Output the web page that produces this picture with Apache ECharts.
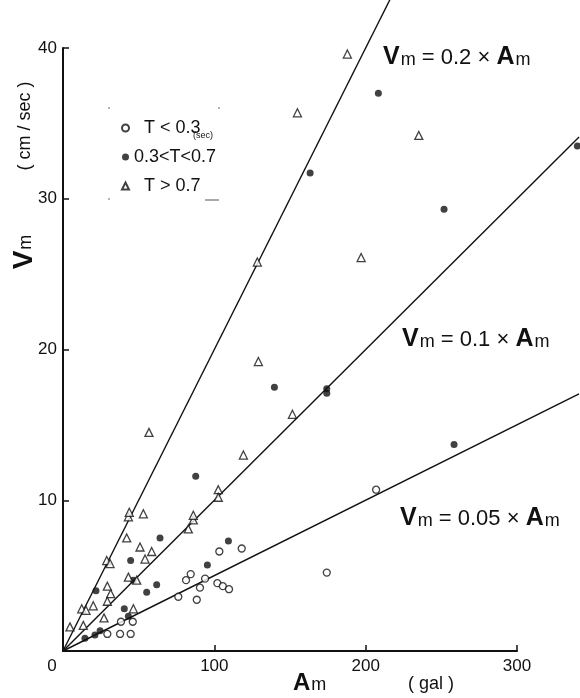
<!DOCTYPE html>
<html>
<head>
<meta charset="utf-8">
<script src="https://cdn.jsdelivr.net/npm/echarts@6/dist/echarts.min.js"></script>
<style>
  html, body { margin: 0; padding: 0; background: #fff; }
  #myChart { width: 580px; height: 698px; }
</style>
</head>
<body>
<div id="myChart"></div>
<script>
// values (Am in gal, Vm in cm/sec)
const shortAm = [29.3, 37.7, 44.7, 38.3, 46.1, 76.2, 88.4, 81.3, 84.4, 90.5, 93.9, 102.0, 105.6, 109.7, 103.3, 118.1, 174.3, 206.9];
const shortVm = [1.13, 1.13, 1.13, 1.94, 1.94, 3.6, 3.4, 4.7, 5.1, 4.2, 4.8, 4.5, 4.3, 4.1, 6.6, 6.8, 5.2, 10.7];

const midAm = [14.5, 21.1, 24.5, 21.8, 40.5, 43.2, 44.7, 46.5, 55.3, 61.9, 64.1, 95.4, 109.3, 87.7, 139.7, 174.3, 174.3, 163.3, 208.4, 251.8, 339.9, 258.4];
const midVm = [0.84, 1.06, 1.35, 4.0, 2.8, 2.3, 6.0, 4.7, 3.9, 4.4, 7.5, 5.7, 7.3, 11.6, 17.5, 17.4, 17.1, 31.7, 37.0, 29.3, 33.5, 13.7];

const longAm = [4.6, 13.4, 12.4, 15.2, 20.0, 27.1, 29.3, 31.5, 29.3, 28.9, 31.1, 43.2, 48.7, 43.2, 43.8, 53.1, 42.1, 50.9, 54.2, 58.6, 46.5, 82.8, 86.1, 86.1, 102.6, 102.6, 56.8, 119.2, 151.6, 129.1, 128.4, 154.9, 187.9, 197.0, 235.1];
const longVm = [1.6, 1.7, 2.8, 2.7, 3.0, 2.2, 3.3, 3.8, 4.3, 6.0, 5.8, 4.9, 4.7, 8.9, 9.2, 9.1, 7.5, 6.9, 6.1, 6.6, 2.8, 8.1, 8.7, 9.0, 10.7, 10.2, 14.5, 13.0, 15.7, 19.2, 25.8, 35.7, 39.6, 26.1, 34.2];

// Vm = k * Am reference lines
const slopes = [0.2, 0.1, 0.05];
const lineEndAm = [216, 341, 341];

const xTicks = [0, 100, 200, 300];
const yTicks = [0, 10, 20, 30, 40];

const FONT = "Liberation Sans";

// visible axes box (0..300, 0..40)
const BOX = { left: 63, top: 48, width: 454, height: 603 };
const W = 580;

function pairs(xs, ys) {
  return xs.map((x, i) => [x, ys[i]]);
}

let myChart = echarts.init(document.getElementById("myChart"));

// second, hidden grid with the same scale but running out to the picture edge,
// so the lines and the far point are not cut at 300 / 40
const xMax = xTicks[xTicks.length - 1];
const yMax = yTicks[yTicks.length - 1];
const xMaxWide = xMax * (W - BOX.left) / BOX.width;
const yMaxWide = yMax * (BOX.top + BOX.height) / BOX.height;

const lineSeries = slopes.map((k, i) => ({
  type: "line",
  xAxisIndex: 1,
  yAxisIndex: 1,
  data: [[0, 0], [lineEndAm[i], k * lineEndAm[i]]],
  showSymbol: false,
  symbol: "none",
  silent: true,
  z: 1,
  lineStyle: { color: "#111", width: 1.4 }
}));

// equation label, V and A bold, m small
function eqText(k) {
  return "{v|V}{m|m}{t| = " + k + " × }{v|A}{m|m}";
}
const eqRich = {
  v: { fontFamily: FONT, fontSize: 25, fontWeight: "bold", fill: "#111" },
  m: { fontFamily: FONT, fontSize: 18, fill: "#111", padding: [5, 0, 0, 1] },
  t: { fontFamily: FONT, fontSize: 22, fill: "#111" }
};

myChart.setOption({
  animation: false,
  backgroundColor: "#fff",
  grid: [
    { left: BOX.left, top: BOX.top, width: BOX.width, height: BOX.height },
    { left: BOX.left, top: 0, width: W - BOX.left, height: BOX.top + BOX.height }
  ],
  legend: {
    orient: "vertical",
    left: 116,
    top: 114,
    itemGap: 11,
    itemWidth: 7,
    itemHeight: 7,
    textStyle: { fontFamily: FONT, fontSize: 18, color: "#111" },
    data: ["  T < 0.3", "0.3<T<0.7", "  T > 0.7"]
  },
  xAxis: [
    {
      type: "value",
      gridIndex: 0,
      min: xTicks[0],
      max: xMax,
      interval: 100,
      axisLine: { show: true, lineStyle: { color: "#111", width: 2 } },
      axisTick: { show: true, inside: true, length: 6, lineStyle: { color: "#111", width: 1.5 } },
      splitLine: { show: false },
      axisLabel: {
        margin: 7,
        fontFamily: FONT,
        fontSize: 17,
        color: "#111",
        formatter: function (v) {
          return v === 0 ? "{z|0}" : String(v);
        },
        rich: { z: { fontFamily: FONT, fontSize: 17, color: "#111", padding: [0, 22, 0, 0] } }
      }
    },
    {
      type: "value",
      gridIndex: 1,
      min: 0,
      max: xMaxWide,
      show: false
    }
  ],
  yAxis: [
    {
      type: "value",
      gridIndex: 0,
      min: yTicks[0],
      max: yMax,
      interval: 10,
      axisLine: { show: true, lineStyle: { color: "#111", width: 2 } },
      axisTick: { show: true, inside: true, length: 6, lineStyle: { color: "#111", width: 1.5 } },
      splitLine: { show: false },
      axisLabel: {
        margin: 6,
        fontFamily: FONT,
        fontSize: 17,
        color: "#111",
        showMinLabel: false
      }
    },
    {
      type: "value",
      gridIndex: 1,
      min: 0,
      max: yMaxWide,
      show: false
    }
  ],
  series: lineSeries.concat([
    {
      name: "  T < 0.3",
      type: "scatter",
      xAxisIndex: 1,
      yAxisIndex: 1,
      data: pairs(shortAm, shortVm),
      symbol: "circle",
      symbolSize: 7,
      z: 3,
      itemStyle: { color: "#fff", borderColor: "#111", borderWidth: 1.3 }
    },
    {
      name: "0.3<T<0.7",
      type: "scatter",
      xAxisIndex: 1,
      yAxisIndex: 1,
      data: pairs(midAm, midVm),
      symbol: "circle",
      symbolSize: 7,
      z: 3,
      itemStyle: { color: "#111", borderColor: "#111", borderWidth: 0 }
    },
    {
      name: "  T > 0.7",
      type: "scatter",
      xAxisIndex: 1,
      yAxisIndex: 1,
      data: pairs(longAm, longVm),
      symbol: "triangle",
      symbolSize: 8,
      z: 3,
      itemStyle: { color: "#fff", borderColor: "#111", borderWidth: 1.3 }
    }
  ]),
  graphic: [
    // legend "(sec)" note
    { type: "text", left: 193, top: 131, style: { text: "(sec)", font: "9px " + FONT, fill: "#111" } },
    // dotted corners of the legend box
    { type: "circle", shape: { cx: 109, cy: 108, r: 0.8 }, style: { fill: "#555" } },
    { type: "circle", shape: { cx: 219, cy: 108, r: 0.8 }, style: { fill: "#555" } },
    { type: "circle", shape: { cx: 109, cy: 199, r: 0.8 }, style: { fill: "#555" } },
    { type: "line", shape: { x1: 205, y1: 200, x2: 219, y2: 200 }, style: { stroke: "#555", lineWidth: 1 } },
    // equation labels
    { type: "text", left: 383, top: 45, style: { text: eqText("0.2"), rich: eqRich } },
    { type: "text", left: 402, top: 327, style: { text: eqText("0.1"), rich: eqRich } },
    { type: "text", left: 400, top: 506, style: { text: eqText("0.05"), rich: eqRich } },
    // x axis title
    { type: "text", left: 293, top: 671, style: { text: "{a|A}{m|m}", rich: {
        a: { fontFamily: FONT, fontSize: 24, fontWeight: "bold", fill: "#111" },
        m: { fontFamily: FONT, fontSize: 18, fill: "#111", padding: [4, 0, 0, 1] } } } },
    { type: "text", left: 408, top: 675, style: { text: "( gal )", font: "18px " + FONT, fill: "#111" } },
    // y axis title (rotated)
    { type: "text", x: 25, y: 126, rotation: Math.PI / 2,
      style: { text: "( cm / sec )", font: "18px " + FONT, fill: "#111", align: "center", verticalAlign: "middle" } },
    { type: "text", x: 24, y: 252, rotation: Math.PI / 2,
      style: { text: "{a|V}{m|m}", align: "center", verticalAlign: "middle", rich: {
        a: { fontFamily: FONT, fontSize: 28, fontWeight: "bold", fill: "#111" },
        m: { fontFamily: FONT, fontSize: 18, fill: "#111", padding: [5, 0, 0, 1] } } } }
  ]
});
</script>
</body>
</html>
